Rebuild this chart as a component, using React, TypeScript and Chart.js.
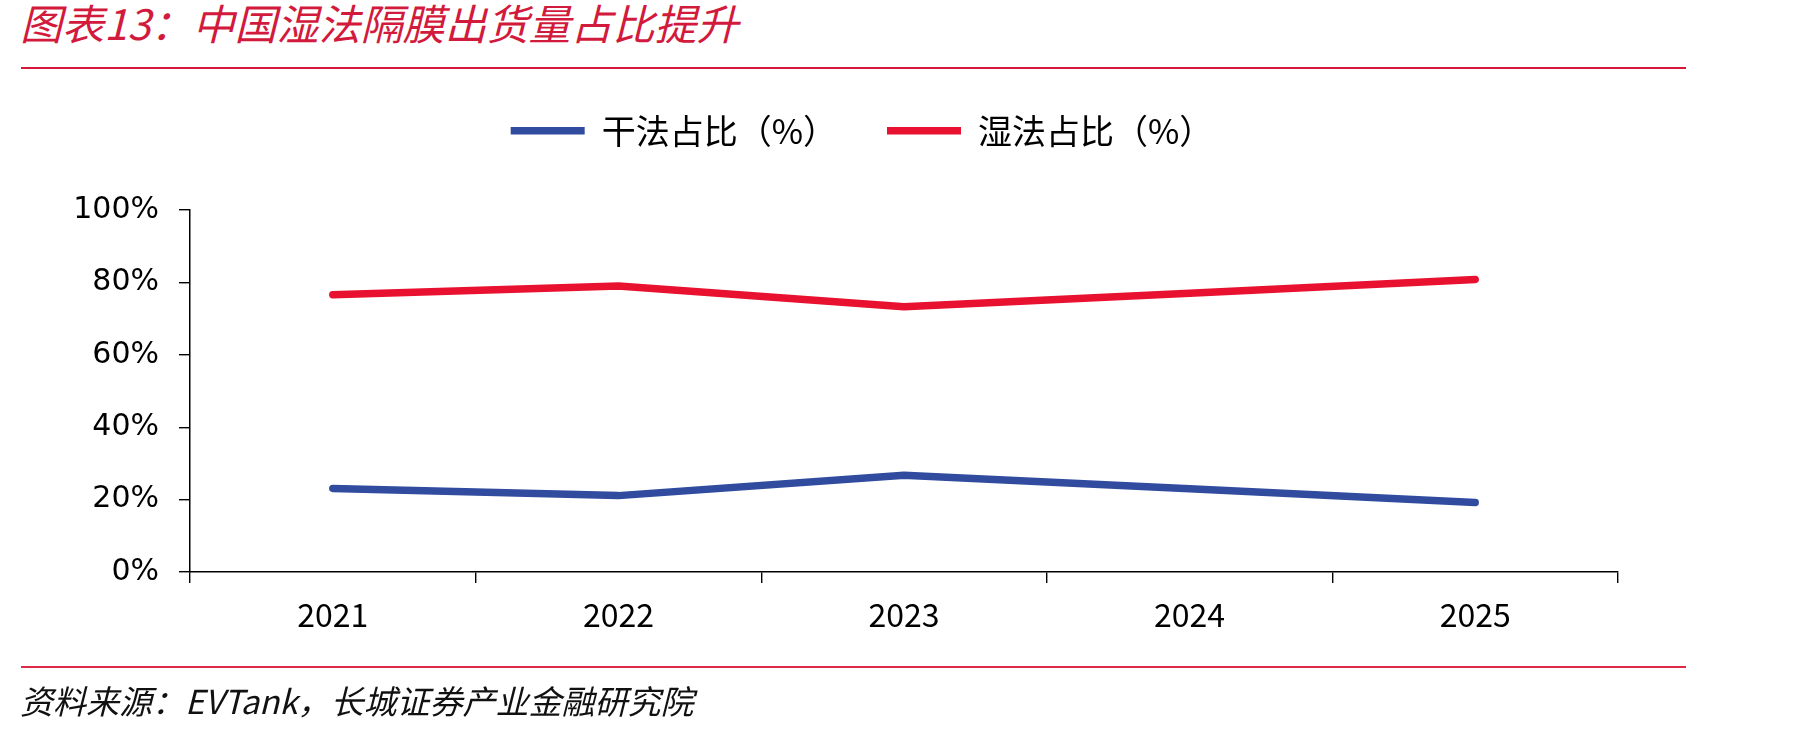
import { useEffect, useRef } from "react";
import { Chart, registerables } from "chart.js";

Chart.register(...registerables);

// Shipment share of dry vs. wet separator film in China, by year
const years = ["2021", "2022", "2023", "2024", "2025"];
const dryShare = [23.1, 21.1, 26.7, 23.0, 19.2];
const wetShare = [76.6, 79.0, 73.3, 77.0, 80.8];
const seriesNames = ["干法占比（%）", "湿法占比（%）"];
const seriesColors = ["#314C9F", "#E8112F"];
const yMin = 0;
const yMax = 100;
const yStep = 20;
const titleText = "图表13：中国湿法隔膜出货量占比提升";
const sourceText = "资料来源：EVTank，长城证券产业金融研究院";

const CJK = "'Noto Sans CJK SC', 'Noto Sans', sans-serif";

// Plot-area edges inside the 1807x733 canvas
const PLOT_LEFT = 190;
const PLOT_RIGHT_GAP = 189;
const X_AXIS_HEIGHT = 161;
const LEGEND_GAP = 52.3;

const PAD_LEFT = 17;
const PAD_RIGHT = 100;

// Adds extra room between the legend row and the plot area
const legendSpacing = {
  id: "legendSpacing",
  beforeInit(chart: any) {
    const legend = chart.legend;
    if (!legend) return;
    const originalFit = legend.fit;
    legend.fit = function () {
      originalFit.call(this);
      this.height += LEGEND_GAP;
    };
  },
};

export default function App() {
  const canvasRef = useRef<HTMLCanvasElement | null>(null);

  useEffect(() => {
    if (!canvasRef.current) return;
    const lineStyle = {
      borderWidth: 7.5,
      borderCapStyle: "round" as const,
      borderJoinStyle: "round" as const,
      pointRadius: 0,
      tension: 0,
    };
    const chart = new Chart(canvasRef.current, {
      type: "line",
      data: {
        labels: years,
        datasets: [
          {
            label: seriesNames[0],
            data: dryShare,
            borderColor: seriesColors[0],
            backgroundColor: seriesColors[0],
            ...lineStyle,
          },
          {
            label: seriesNames[1],
            data: wetShare,
            borderColor: seriesColors[1],
            backgroundColor: seriesColors[1],
            ...lineStyle,
          },
        ],
      },
      plugins: [legendSpacing],
      options: {
        responsive: false,
        animation: false,
        layout: { padding: { left: PAD_LEFT, right: PAD_RIGHT, top: 63.7, bottom: 0 } },
        plugins: {
          legend: {
            position: "top",
            align: "center",
            labels: {
              usePointStyle: true,
              pointStyle: "line",
              pointStyleWidth: 74,
              padding: 50,
              color: "#000",
              font: { family: CJK, size: 34 },
            },
          },
          tooltip: { enabled: false },
        },
        scales: {
          x: {
            offset: true,
            grid: {
              offset: true,
              drawOnChartArea: false,
              drawTicks: true,
              tickLength: 11,
              color: "#000",
              lineWidth: 1.4,
            },
            border: { display: true, color: "#000", width: 1.5 },
            ticks: {
              color: "#000",
              padding: 13,
              maxRotation: 0,
              font: { family: CJK, size: 32 },
            },
            afterFit: (scale: any) => {
              scale.height = X_AXIS_HEIGHT;
              scale.paddingRight = PLOT_RIGHT_GAP;
            },
          },
          y: {
            min: yMin,
            max: yMax,
            grid: {
              drawOnChartArea: false,
              drawTicks: true,
              tickLength: 11,
              color: "#000",
              lineWidth: 1.4,
            },
            border: { display: true, color: "#000", width: 1.5 },
            ticks: {
              stepSize: yStep,
              color: "#000",
              padding: 20,
              font: { family: "'DejaVu Sans', sans-serif", size: 30 },
              callback: (v: any) => `${v}%`,
            },
            afterFit: (scale: any) => {
              scale.width = PLOT_LEFT - PAD_LEFT;
            },
          },
        },
      },
    });
    return () => chart.destroy();
  }, []);

  return (
    <div
      style={{
        position: "absolute",
        left: 0,
        top: 0,
        width: 1807,
        height: 733,
        background: "#fff",
        overflow: "hidden",
      }}
    >
      <div
        style={{
          position: "absolute",
          left: 20,
          top: 1,
          fontFamily: CJK,
          fontSize: 42,
          lineHeight: "42px",
          fontStyle: "italic",
          color: "#D21A3D",
          whiteSpace: "nowrap",
        }}
      >
        {titleText}
      </div>
      <div
        style={{
          position: "absolute",
          left: 21,
          top: 67,
          width: 1665,
          height: 2,
          background: "#D6173A",
        }}
      />
      <canvas
        ref={canvasRef}
        width={1807}
        height={733}
        style={{ position: "absolute", left: 0, top: 0, width: 1807, height: 733 }}
      />
      <div
        style={{
          position: "absolute",
          left: 21,
          top: 666,
          width: 1665,
          height: 2,
          background: "#DE2A48",
        }}
      />
      <div
        style={{
          position: "absolute",
          left: 20,
          top: 684,
          fontFamily: CJK,
          fontSize: 33,
          lineHeight: "33px",
          fontStyle: "italic",
          color: "#111",
          whiteSpace: "nowrap",
        }}
      >
        {sourceText}
      </div>
    </div>
  );
}
